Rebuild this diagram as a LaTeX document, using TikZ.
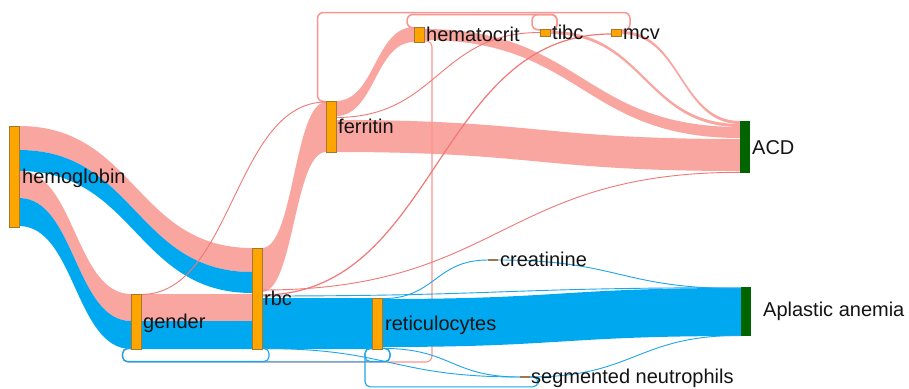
\documentclass[tikz,border=0pt]{standalone}
\usepackage{fontspec}
\setmainfont{Liberation Sans}
\usetikzlibrary{calc}
\pgfdeclarelayer{back}
\pgfdeclarelayer{bg}
\pgfsetlayers{back,bg,main}
\definecolor{pinkc}{RGB}{249,150,144}
\definecolor{pinkline}{RGB}{240,120,118}
\definecolor{bluec}{RGB}{0,168,240}
\definecolor{blueline}{RGB}{30,165,235}
\definecolor{barc}{RGB}{255,165,0}
\definecolor{barline}{RGB}{160,120,50}
\definecolor{greenc}{RGB}{0,100,0}
\definecolor{tinyc}{RGB}{160,120,80}
\definecolor{txt}{RGB}{20,20,20}
% filled flow band: style, source, src top, src bottom, target, tgt top, tgt bottom, control distance
\newcommand\flowband[8]{\fill[#1] ([yshift=-#3pt]#2.north east) to[out=0,in=180,distance=#8pt] ([yshift=-#6pt]#5.north west) -- ([yshift=-#7pt]#5.north west) to[out=180,in=0,distance=#8pt] ([yshift=-#4pt]#2.north east) -- cycle;}
\begin{document}
\begin{tikzpicture}[x=1pt,y=-1pt,
  bar/.style={draw=barline, line width=0.5pt, fill=barc, inner sep=0pt, outer sep=0pt, minimum width=10pt, anchor=north west},
  endbar/.style={fill=greenc, inner sep=0pt, outer sep=0pt, minimum width=10pt, anchor=north west},
  tinybar/.style={fill=tinyc, inner sep=0pt, outer sep=0pt, minimum width=10pt, minimum height=2pt, anchor=north west},
  lbl/.style={inner sep=0pt, anchor=base west, font=\fontsize{20}{24}\selectfont, text=txt},
  pband/.style={fill=pinkc, fill opacity=0.85},
  bband/.style={fill=bluec},
  pthin/.style={draw=pinkline, line width=0.9pt},
  bthin/.style={draw=blueline, line width=0.9pt},
  ploop/.style={draw=pinkc, line width=1.5pt, rounded corners=6pt},
  bloop/.style={draw=blueline, line width=1.1pt, rounded corners=5pt},
]
\begin{pgfonlayer}{back}
\fill[white] (0,0) rectangle (909,388);
\end{pgfonlayer}
\useasboundingbox (0,0) rectangle (909,388);

% nodes
\node[bar, minimum height=101pt] (hemo) at (9,126) {};
\node[bar, minimum height=55pt] (gender) at (131,294) {};
\node[bar, minimum height=101pt] (rbc) at (252,248) {};
\node[bar, minimum height=51pt] (ferritin) at (326,101) {};
\node[bar, minimum height=15pt] (hematocrit) at (414,27) {};
\node[bar, minimum height=7pt] (tibc) at (540,29) {};
\node[bar, minimum height=7pt] (mcv) at (611,29) {};
\node[bar, minimum height=51pt] (retic) at (372.5,298) {};
\node[tinybar] (creat) at (488,259) {};
\node[tinybar] (segneut) at (520,376) {};
\node[endbar, minimum height=52pt] (acd) at (740,121) {};
\node[endbar, minimum height=49pt] (aplastic) at (741,287) {};

% labels
\node[lbl] (hemoL) at ([xshift=3pt,yshift=-7pt]hemo.east) {hemoglobin};
\node[lbl] (genderL) at ([xshift=2pt,yshift=-7pt]gender.east) {gender};
\node[lbl] (rbcL) at ([xshift=2pt,yshift=-7pt]rbc.east) {rbc};
\node[lbl] (ferritinL) at ([xshift=2pt,yshift=-7pt]ferritin.east) {ferritin};
\node[lbl] (hematocritL) at ([xshift=2pt,yshift=-6.5pt]hematocrit.east) {hematocrit};
\node[lbl] (tibcL) at ([xshift=2pt,yshift=-7pt]tibc.east) {tibc};
\node[lbl] (mcvL) at ([xshift=2pt,yshift=-7pt]mcv.east) {mcv};
\node[lbl] (reticL) at ([xshift=2.5pt,yshift=-7pt]retic.east) {reticulocytes};
\node[lbl] (creatL) at ([xshift=2pt,yshift=-6.5pt]creat.east) {creatinine};
\node[lbl] (segneutL) at ([xshift=1pt,yshift=-6pt]segneut.east) {segmented neutrophils};
\node[lbl] (acdL) at ([xshift=2pt,yshift=-7pt]acd.east) {ACD};
\node[lbl] (aplasticL) at ([xshift=12pt,yshift=-5pt]aplastic.east) {Aplastic anemia};

\begin{pgfonlayer}{bg}
% circular links
\draw[ploop] ([yshift=-1pt]mcv.north east) -- (630,30) -- (630,12.5) -- (317.5,12.5) -- (317.5,101.5) -- ([yshift=-0.5pt]ferritin.north west);
\draw[ploop] ([yshift=-1pt]tibc.north east) -- (557,30) -- (557,14.5) -- (407,14.5) -- (407,27.8) -- ([yshift=-0.8pt]hematocrit.north west);
\draw[ploop] ([yshift=-1pt]tibc.north east) -- (557,30) -- (557,14.5) -- (532,14.5) -- (532,29.8) -- ([yshift=-0.8pt]tibc.north west);
\draw[ploop, line width=1.1pt] ([yshift=1pt]hematocrit.south east) -- (432,41) -- (432,362) -- (122.5,362) -- (122.5,349) -- ([yshift=0.5pt]gender.south west);

% wide bands
\flowband{pband}{hemo}{0}{24}{rbc}{0}{24}{116}
\flowband{bband}{hemo}{24}{45}{rbc}{24}{45}{116}
\flowband{pband}{hemo}{45}{72}{gender}{0}{27}{56}
\flowband{bband}{hemo}{72}{100}{gender}{27}{55}{56}
\flowband{pband}{gender}{0}{27}{rbc}{46}{73}{55}
\flowband{bband}{gender}{27}{55}{rbc}{73}{101}{55}
\flowband{pband}{rbc}{0}{44}{ferritin}{1}{51}{32}
\flowband{bband}{rbc}{50}{101}{retic}{0}{51}{55}
\flowband{pband}{ferritin}{0}{15}{hematocrit}{0}{15}{39}
\flowband{pband}{ferritin}{19}{51}{acd}{18}{50}{202}
\flowband{pband}{hematocrit}{2}{13}{acd}{6}{17}{158}
\flowband{pband}{tibc}{2}{5}{acd}{3}{6}{95}
\flowband{pband}{mcv}{2}{5}{acd}{0}{3}{60}
\flowband{bband}{retic}{1}{49}{aplastic}{1}{49}{180}

% thin links
\draw[pthin] ([yshift=-0.5pt]gender.north east) to[out=0,in=180,distance=92pt] ([yshift=-1pt]ferritin.north west);
\draw[pthin] ([yshift=-42pt]rbc.north east) to[out=0,in=180,distance=239pt] ([yshift=-51.3pt]acd.north west);
\draw[pthin, line width=1.2pt] ([yshift=-47pt]rbc.north east) to[out=0,in=180,distance=175pt] ([yshift=-5pt]mcv.north west);
\draw[pthin] ([yshift=-16.5pt]ferritin.north east) to[out=0,in=180,distance=102pt] ([yshift=-3.5pt]tibc.north west);
\draw[bthin] ([yshift=-48pt]rbc.north east) to[out=0,in=180,distance=240pt] ([yshift=-0.7pt]aplastic.north west);
\draw[bthin] ([yshift=-100.5pt]rbc.north east) to[out=0,in=180,distance=129pt] ([yshift=-1pt]segneut.north west);
\draw[bthin] ([yshift=-0.6pt]retic.north east) to[out=0,in=180,distance=53pt] ([yshift=-1pt]creat.north west);
\draw[bthin] ([yshift=-1pt]creat.north east) to[out=0,in=180,distance=121pt] ([yshift=-1.6pt]aplastic.north west);
\draw[bthin] ([yshift=-50.4pt]retic.north east) to[out=0,in=180,distance=69pt] ([yshift=-1pt]segneut.north west);
\draw[bthin] ([yshift=-1pt]segneut.north east) to[out=0,in=180,distance=105pt] ([yshift=-48.4pt]aplastic.north west);

% blue circular links
\draw[bloop] ([yshift=0.5pt]rbc.south east) -- (269,348.5) -- (269,361.5) -- (122.5,361.5) -- (122.5,348.5) -- ([yshift=0.5pt]gender.south west);
\draw[bloop] ([yshift=0.5pt]retic.south east) -- (390,348.5) -- (390,361.8) -- (122.5,361.8) -- (122.5,348.5) -- ([yshift=0.5pt]gender.south west);
\draw[bloop] ([yshift=0.5pt]retic.south east) -- (390,348.5) -- (390,361.5) -- (365,361.5) -- (365,348.5) -- ([yshift=0.5pt]retic.south west);
\draw[bloop] ([yshift=-1pt]segneut.north east) -- (538,377) -- (538,386.8) -- (365,386.8) -- (365,348.5) -- ([yshift=0.5pt]retic.south west);
\end{pgfonlayer}
\end{tikzpicture}
\end{document}
